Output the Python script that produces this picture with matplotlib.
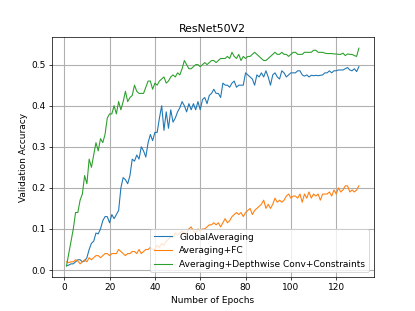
import matplotlib
matplotlib.use("Agg")
import matplotlib.pyplot as plt
import numpy as np

epochs = list(range(1, 131))

global_avg = [
    0.010, 0.012, 0.015, 0.015, 0.020, 0.025, 0.025, 0.020, 0.022, 0.030,
    0.050, 0.065, 0.070, 0.090, 0.088, 0.100, 0.120, 0.130, 0.130, 0.115,
    0.135, 0.125, 0.135, 0.145, 0.200, 0.225, 0.220, 0.210, 0.230, 0.270,
    0.265, 0.280, 0.270, 0.300, 0.290, 0.275, 0.310, 0.330, 0.315, 0.335,
    0.335, 0.370, 0.400, 0.340, 0.385, 0.345, 0.390, 0.360, 0.370, 0.385,
    0.395, 0.410, 0.400, 0.385, 0.405, 0.390, 0.405, 0.390, 0.410, 0.390,
    0.415, 0.420, 0.405, 0.425, 0.430, 0.440, 0.430, 0.430, 0.420, 0.455,
    0.450, 0.450, 0.445, 0.455, 0.460, 0.445, 0.450, 0.450, 0.450, 0.480,
    0.475, 0.470, 0.465, 0.450, 0.475, 0.470, 0.480, 0.470, 0.485, 0.470,
    0.450, 0.475, 0.480, 0.470, 0.465, 0.485, 0.480, 0.470, 0.475, 0.480,
    0.480, 0.480, 0.485, 0.485, 0.475, 0.472, 0.475, 0.470, 0.474, 0.473,
    0.474, 0.473, 0.474, 0.475, 0.480, 0.480, 0.485, 0.480, 0.485, 0.485,
    0.487, 0.487, 0.487, 0.490, 0.493, 0.487, 0.485, 0.490, 0.483, 0.495,
]

avg_fc = [
    0.020, 0.018, 0.020, 0.020, 0.025, 0.022, 0.015, 0.020, 0.025, 0.020,
    0.030, 0.025, 0.030, 0.035, 0.035, 0.030, 0.035, 0.040, 0.040, 0.035,
    0.040, 0.040, 0.040, 0.050, 0.045, 0.040, 0.035, 0.040, 0.040, 0.045,
    0.045, 0.040, 0.050, 0.040, 0.045, 0.050, 0.050, 0.055, 0.050, 0.050,
    0.060, 0.055, 0.065, 0.060, 0.070, 0.075, 0.080, 0.080, 0.090, 0.085,
    0.090, 0.095, 0.090, 0.090, 0.100, 0.105, 0.095, 0.090, 0.100, 0.095,
    0.100, 0.100, 0.105, 0.110, 0.110, 0.115, 0.110, 0.115, 0.105, 0.115,
    0.125, 0.115, 0.120, 0.130, 0.135, 0.140, 0.135, 0.140, 0.130, 0.140,
    0.145, 0.150, 0.135, 0.145, 0.150, 0.155, 0.160, 0.170, 0.150, 0.160,
    0.150, 0.160, 0.175, 0.165, 0.170, 0.165, 0.170, 0.180, 0.185, 0.175,
    0.180, 0.180, 0.175, 0.185, 0.165, 0.185, 0.175, 0.190, 0.175, 0.185,
    0.180, 0.185, 0.170, 0.185, 0.185, 0.185, 0.190, 0.180, 0.195, 0.185,
    0.200, 0.190, 0.195, 0.205, 0.205, 0.190, 0.195, 0.190, 0.195, 0.205,
]

depthwise = [
    0.010, 0.040, 0.070, 0.100, 0.140, 0.140, 0.170, 0.185, 0.230, 0.210,
    0.270, 0.250, 0.280, 0.310, 0.290, 0.320, 0.310, 0.330, 0.370, 0.380,
    0.380, 0.400, 0.380, 0.410, 0.390, 0.410, 0.435, 0.410, 0.420, 0.425,
    0.450, 0.435, 0.430, 0.430, 0.430, 0.445, 0.460, 0.460, 0.440, 0.455,
    0.450, 0.460, 0.465, 0.470, 0.455, 0.460, 0.470, 0.475, 0.470, 0.480,
    0.475, 0.490, 0.510, 0.500, 0.490, 0.490, 0.495, 0.500, 0.500, 0.495,
    0.500, 0.505, 0.500, 0.505, 0.510, 0.510, 0.505, 0.510, 0.515, 0.515,
    0.515, 0.520, 0.515, 0.530, 0.520, 0.515, 0.525, 0.510, 0.520, 0.515,
    0.520, 0.520, 0.525, 0.530, 0.525, 0.520, 0.515, 0.510, 0.510, 0.515,
    0.520, 0.525, 0.530, 0.525, 0.525, 0.530, 0.525, 0.525, 0.520, 0.525,
    0.530, 0.530, 0.525, 0.525, 0.525, 0.530, 0.530, 0.530, 0.530, 0.535,
    0.535, 0.530, 0.530, 0.530, 0.528, 0.527, 0.527, 0.527, 0.526, 0.526,
    0.525, 0.525, 0.528, 0.522, 0.526, 0.525, 0.525, 0.522, 0.520, 0.540,
]

labels = ["GlobalAveraging", "Averaging+FC", "Averaging+Depthwise Conv+Constraints"]

fig = plt.figure(figsize=(415 / 65, 311 / 65), dpi=65)
ax = fig.add_subplot(111)
ax.plot(epochs, global_avg, label=labels[0], linewidth=1.2)
ax.plot(epochs, avg_fc, label=labels[1], linewidth=1.2)
ax.plot(epochs, depthwise, label=labels[2], linewidth=1.2)
ax.set_title("ResNet50V2")
ax.set_xlabel("Number of Epochs")
ax.set_ylabel("Validation Accuracy")
ax.grid(True, linewidth=1.2)
ax.legend(loc="lower right")
fig.savefig("out.png", dpi=65)
